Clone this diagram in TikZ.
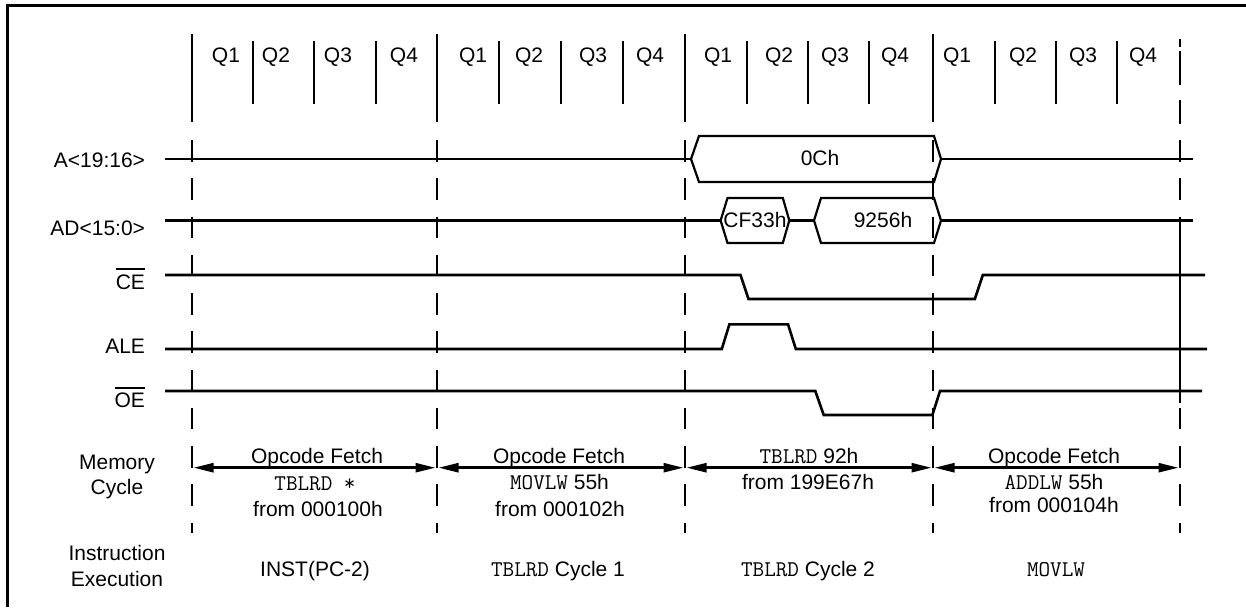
\documentclass[tikz,border=0pt]{standalone}
\usepackage{fontspec}
\setmainfont{Liberation Sans}
\newcommand\monotxt[1]{{\fontsize{22.5}{24}\selectfont\ttfamily #1}}
\usetikzlibrary{arrows.meta}
\begin{document}
\begin{tikzpicture}[x=1pt,y=-1pt,
  font=\fontsize{21}{24}\selectfont,
  every node/.style={inner sep=0pt, outer sep=0pt},
  sig/.style={line width=2.6pt},
  frameline/.style={line width=3pt},
  cycline/.style={line width=2.8pt},
  dashline/.style={line width=2.6pt, dash pattern=on 21.5pt off 16.75pt},
  busbox/.style={line width=2.2pt},
  ovl/.style={line width=2.2pt},
  memarrow/.style={line width=2.6pt, {Triangle[length=20pt,width=9pt]}-{Triangle[length=20pt,width=9pt]}},
  qlbl/.style={anchor=center},
  siglbl/.style={anchor=base east},
  txt/.style={anchor=base}]
\useasboundingbox (0,0) rectangle (1246,607);

% frame
\draw[frameline] (7,607) -- (7,6) -- (1250,6);

% cycle boundaries (top, solid)
\foreach \x in {192,437,685,933}
  \draw[cycline] (\x,34) -- (\x,122);
% quarter lines
\foreach \x in {253,314,376,499,561,623,747,808,869,995,1056,1117}
  \draw[cycline] (\x,41) -- (\x,104);
% last boundary top (dashed)
\draw[cycline] (1180,39) -- (1180,47);
\draw[cycline] (1180,51) -- (1180,85);
\draw[cycline] (1180,100) -- (1180,124);

% Q labels
\node[qlbl] (q11) at (226,57) {Q1};
\node[qlbl] (q12) at (276,57) {Q2};
\node[qlbl] (q13) at (338,57) {Q3};
\node[qlbl] (q14) at (404,57) {Q4};
\node[qlbl] (q21) at (473,57) {Q1};
\node[qlbl] (q22) at (529,57) {Q2};
\node[qlbl] (q23) at (593,57) {Q3};
\node[qlbl] (q24) at (650,57) {Q4};
\node[qlbl] (q31) at (718,57) {Q1};
\node[qlbl] (q32) at (779,57) {Q2};
\node[qlbl] (q33) at (835,57) {Q3};
\node[qlbl] (q34) at (895,57) {Q4};
\node[qlbl] (q41) at (957,57) {Q1};
\node[qlbl] (q42) at (1023,57) {Q2};
\node[qlbl] (q43) at (1083,57) {Q3};
\node[qlbl] (q44) at (1143,57) {Q4};

% dashed cycle boundaries
\foreach \x in {192,437,685,933,1180}
  \draw[dashline] (\x,140) -- (\x,533);
\draw[cycline] (1180,232) -- (1180,403);

% signal labels
\node[siglbl] (la) at (145,167.7) {A<19:16>};
\node[siglbl] (lad) at (145,235) {AD<15:0>};
\node[siglbl] (lce) at (145,289.3) {CE};
\node[siglbl] (lale) at (145,353.3) {ALE};
\node[siglbl] (loe) at (145,407.5) {OE};
\draw[ovl] ([yshift=20.6pt]lce.base west) -- ([yshift=20.6pt]lce.base east);
\draw[ovl] ([yshift=19.5pt]loe.base west) -- ([yshift=19.5pt]loe.base east);

% A<19:16>
\draw[sig] (165,159) -- (691,159);
\draw[busbox] (691,159) -- (699,136) -- (934,136) -- (941,159) -- (934,182) -- (699,182) -- cycle;
\draw[sig] (941,159) -- (1193,159);
\node (v0ch) at (820,158) {0Ch};

% AD<15:0>
\draw[sig] (165,220.5) -- (720.6,220.5);
\draw[busbox] (720.6,220.5) -- (727.5,198) -- (782.8,198) -- (789.3,220.5) -- (782.8,243) -- (727.5,243) -- cycle;
\draw[sig] (789.3,220.5) -- (814,220.5);
\draw[busbox] (814,220.5) -- (821,198) -- (934,198) -- (941,220.5) -- (934,243) -- (821,243) -- cycle;
\draw[sig] (941,220.5) -- (1193,220.5);
\node (vcf) at (755,220) {CF33h};
\node (v92) at (883,220) {9256h};

% CE
\draw[sig] (165,275) -- (740.5,275) -- (748.5,299) -- (974.8,299) -- (982.8,275) -- (1205,275);
% ALE
\draw[sig] (165,349) -- (721.8,349) -- (729.4,324.3) -- (788,324.3) -- (795.8,349) -- (1207,349);
% OE
\draw[sig] (165,391) -- (815.3,391) -- (823.7,415) -- (932.4,415) -- (940,391) -- (1202,391);

% row labels
\node[txt] (mem1) at (117,469.5) {Memory};
\node[txt] (mem2) at (117,494) {Cycle};
\node[txt] (ins1) at (117,560) {Instruction};
\node[txt] (ins2) at (117,586.5) {Execution};

% memory cycle arrows
\coordinate (m0) at (192,467.7);
\coordinate (m1) at (437,467.7);
\coordinate (m2) at (685,467.7);
\coordinate (m3) at (933,467.7);
\coordinate (m4) at (1180,467.7);
\draw[memarrow] ([xshift=1.5pt]m0) -- ([xshift=-1.5pt]m1);
\draw[memarrow] ([xshift=1.5pt]m1) -- ([xshift=-1.5pt]m2);
\draw[memarrow] ([xshift=1.5pt]m2) -- ([xshift=-1.5pt]m3);
\draw[memarrow] ([xshift=1.5pt]m3) -- ([xshift=-1.5pt]m4);

% memory cycle texts
\node[txt] (c1a) at (317,463.3) {Opcode Fetch};
\node[txt] (c1b) at (315,490) {\monotxt{TBLRD *}};
\node[txt] (c1c) at (318,516.7) {from 000100h};
\node[txt] (c2a) at (559,463.3) {Opcode Fetch};
\node[txt] (c2b) at (559.5,489.3) {\monotxt{MOVLW} 55h};
\node[txt] (c2c) at (560,516.7) {from 000102h};
\node[txt] (c3a) at (809,463.3) {\monotxt{TBLRD} 92h};
\node[txt] (c3b) at (808,489.3) {from 199E67h};
\node[txt] (c4a) at (1054,463.3) {Opcode Fetch};
\node[txt] (c4b) at (1054,489.3) {\monotxt{ADDLW} 55h};
\node[txt] (c4c) at (1054,512.7) {from 000104h};

% instruction execution
\node[txt] (e1) at (315,576) {INST(PC-2)};
\node[txt] (e2) at (558,576.5) {\monotxt{TBLRD} Cycle 1};
\node[txt] (e3) at (808,576.5) {\monotxt{TBLRD} Cycle 2};
\node[txt] (e4) at (1056,576.5) {\monotxt{MOVLW}};
\end{tikzpicture}
\end{document}
